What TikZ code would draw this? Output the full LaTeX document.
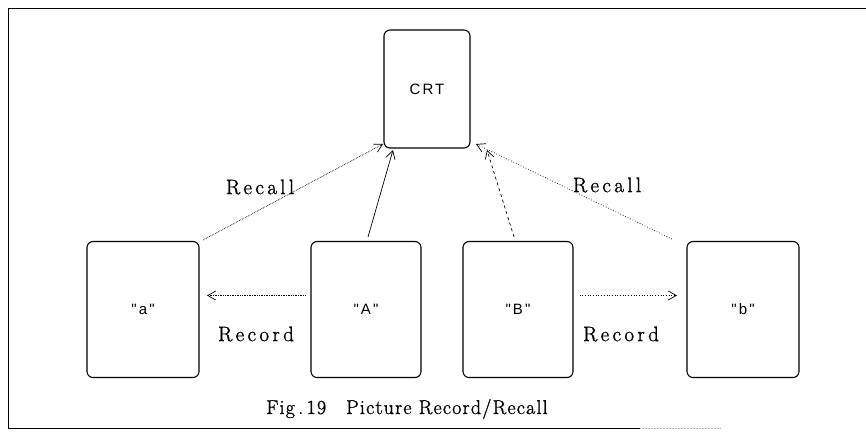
\documentclass[tikz,border=0pt]{standalone}
\usepackage{fontspec}
\newfontfamily\boxfont[LetterSpace=14]{Liberation Sans}
\newfontfamily\labfont[LetterSpace=16,FakeBold=1.2]{Latin Modern Roman}
\newfontfamily\capfont[LetterSpace=6,FakeBold=1.2]{Latin Modern Roman}
\usetikzlibrary{arrows.meta}
\begin{document}
\begin{tikzpicture}[x=1pt,y=-1pt,
  card/.style={draw,line width=1.1pt,rounded corners=6pt,minimum width=112pt,minimum height=136pt,inner sep=0pt,font=\boxfont\fontsize{15}{17}\selectfont},
  crtcard/.style={card,minimum width=86pt,minimum height=118pt},
  lab/.style={font=\labfont\fontsize{21}{24}\selectfont},
  arr/.style={-{Straight Barb[length=8pt,width=9pt]},line width=0.7pt}]
\useasboundingbox (0,0) rectangle (866,434);
\draw[line width=0.7pt] (8,428) -- (8,8) -- (866,8);
\draw[line width=0.7pt] (8,428) -- (640,428);
\draw[line width=0.5pt,gray!60,densely dotted] (640,428) -- (720,428);
\node[crtcard] (crt) at (427,89) {CRT};
\node[card] (a) at (143,309.5) {"a"};
\node[card,minimum width=110pt] (A) at (366,309.5) {"A"};
\node[card,minimum width=110pt] (B) at (518,309.5) {"B"};
\node[card] (b) at (743,309.5) {"b"};
\coordinate (as) at (203,240);
\coordinate (bs) at (672,239);
\draw[arr,densely dotted] (as) -- (383,144);
\draw[arr] (A.north) ++(2,-4) -- (393,150);
\draw[arr,dashed] (B.north) ++(-4,-4) -- (487,150);
\draw[arr,dotted] (bs) -- (476,144);
\draw[arr,densely dotted] (A.west) ++(-5,-14) -- (207,295.5);
\draw[arr,dotted] (B.east) ++(6,-14) -- (677,295.5);
\node[lab] (r1) at (260,187) {Recall};
\node[lab] (r2) at (607,185) {Recall};
\node[lab] (d1) at (256,334) {Record};
\node[lab] (d2) at (621,334) {Record};
\node[lab,font=\capfont\fontsize{20}{24}\selectfont] (cap) at (407,409) {Fig\,.\,19\quad Picture Record/Recall};
\end{tikzpicture}
\end{document}
